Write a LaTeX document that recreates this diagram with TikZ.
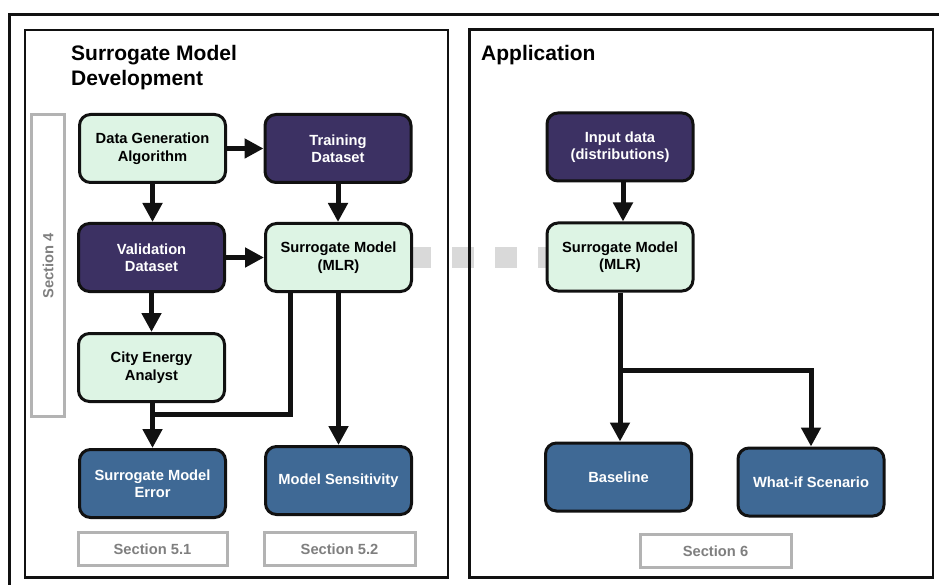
\documentclass[tikz,border=0pt]{standalone}
\usepackage{fontspec}
\setmainfont{Liberation Sans}
\usetikzlibrary{arrows.meta,calc}
\definecolor{mint}{HTML}{DDF4E4}
\definecolor{plum}{HTML}{3C3163}
\definecolor{steel}{HTML}{3F6995}
\definecolor{secgray}{HTML}{B3B3B3}
\definecolor{sectext}{HTML}{7F7F7F}
\definecolor{dashgray}{HTML}{D9D9D9}
\definecolor{ink}{HTML}{111111}
\pgfdeclarelayer{under}
\pgfsetlayers{under,main}
\begin{document}
\begin{tikzpicture}[x=1pt,y=-1pt,
  box/.style={draw=ink, line width=3pt, rounded corners=11pt, minimum width=146pt, minimum height=68pt, inner sep=0pt, align=center, font=\fontsize{14.7}{17.5}\selectfont\bfseries},
  light/.style={box, fill=mint, text=black},
  dark/.style={box, fill=plum, text=white},
  result/.style={box, fill=steel, text=white},
  secbox/.style={draw=secgray, line width=3pt, fill=white, inner sep=0pt, minimum width=149pt, minimum height=33pt, text=sectext, font=\fontsize{14.7}{17.5}\selectfont\bfseries},
  arr/.style={draw=ink, line width=5pt, -{Triangle[length=19pt,width=19pt]}},
  link/.style={draw=ink, line width=5pt},
  panel/.style={draw=ink, line width=2.5pt},
  title/.style={font=\fontsize{21}{25}\selectfont\bfseries, align=left, inner sep=0pt, anchor=north west}
]
\useasboundingbox (0,0) rectangle (939,585);

% outer frame (cut by the page edge)
\draw[ink, line width=3pt] (9.5,600) -- (9.5,14.5) -- (960,14.5);

% panels
\draw[panel] (25,30) rectangle (448,577.5);
\draw[panel] (469.5,29.5) rectangle (933,577.5);

% titles
\node[title] (t1) at (71,45.5) {Surrogate Model\\Development};
\node[title] (t2) at (481,45.5) {Application};

% left panel nodes
\node[light]  (dga) at (152.5,148.5) {Data Generation\\Algorithm};
\node[dark]   (td)  at (338,148.5)   {Training\\Dataset};
\node[dark]   (vd)  at (151.5,257.5) {Validation\\Dataset};
\node[light]  (sm1) at (338.5,257.5) {Surrogate Model\\(MLR)};
\node[light]  (cea) at (151.5,367.5) {City Energy\\Analyst};
\node[result] (sme) at (152.5,483.5) {Surrogate Model\\Error};
\node[result] (ms)  at (338.5,480.5) {Model Sensitivity};

\node[secbox] (s51) at (152.5,549) {Section 5.1};
\node[secbox, minimum width=151pt] (s52) at (339.5,549) {Section 5.2};
\node[secbox, minimum width=301pt, rotate=90] (s4) at (48,265.5) {Section 4};

% right panel nodes
\node[dark]   (id)  at (620,147)   {Input data\\(distributions)};
\node[light]  (sm2) at (620,257)   {Surrogate Model\\(MLR)};
\node[result] (bl)  at (618.5,477) {Baseline};
\node[result] (ws)  at (811,482)   {What-if Scenario};
\node[secbox, minimum width=151pt] (s6) at (715.5,551) {Section 6};

% dashed link between the two surrogate models
\begin{pgfonlayer}{under}
\draw[dashgray, line width=21pt, dash pattern=on 21.5pt off 21.5pt, dash phase=4pt] (sm1.east) -- (sm1.east -| sm2.west);
\end{pgfonlayer}

% junctions
\coordinate (j) at (152.5,414);
\coordinate (k) at (620,370);

% left arrows
\draw[arr] (dga.east) -- (dga.east -| td.west);
\draw[arr] (dga.south) -- (dga.south |- vd.north);
\draw[arr] (td.south) -- (td.south |- sm1.north);
\draw[arr] (vd.east) -- (vd.east -| sm1.west);
\draw[arr] (vd.south) -- (vd.south |- cea.north);
\draw[link] ([xshift=-48pt]sm1.south) |- (j);
\draw[arr] (j |- cea.south) -- (j |- sme.north);
\draw[arr] (sm1.south) -- (sm1.south |- ms.north);

% right arrows
\draw[arr] ([xshift=3pt]id.south) -- ([xshift=3pt]sm2.north);
\draw[arr] (sm2.south) -- (sm2.south |- bl.north);
\draw[arr] (k) -| (ws.north);
\end{tikzpicture}
\end{document}
